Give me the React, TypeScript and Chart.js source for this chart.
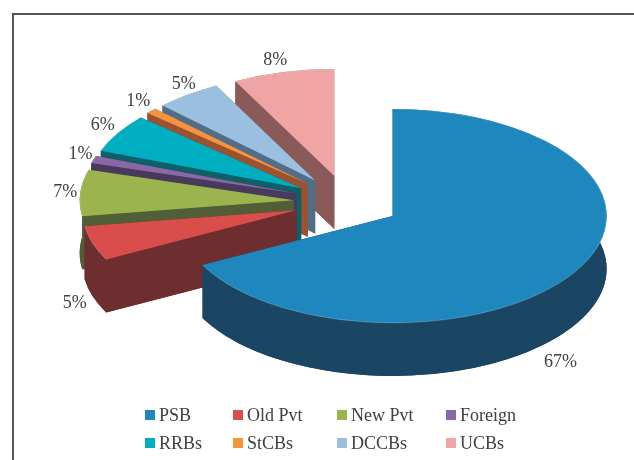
import React, { useEffect, useRef } from "react";
import { Chart, registerables } from "chart.js";

Chart.register(...registerables);

const categories = ["PSB", "Old Pvt", "New Pvt", "Foreign", "RRBs", "StCBs", "DCCBs", "UCBs"];
const shares = [67.4, 5.2, 7.0, 1.1, 5.8, 0.85, 5.0, 7.65];
const faceColors = ["#1e87bd", "#d94d4b", "#9cb44e", "#8b68a5", "#00aec2", "#f5943f", "#9bbfdf", "#eea5a3"];
const wallColors = ["#1a4663", "#6e2e30", "#515e36", "#483a5c", "#0f5f68", "#9a5230", "#506e87", "#8a5a58"];
const labelNudges = [[-15, 91], [-18, 60], [-15, -1], [-13, -5], [-15, -8], [-13, -10], [-4, -10], [-8, -12]];
const legendColumns = [145, 233, 337, 446];
const legendRows = [410, 438];

const CENTER_X = 347;
const CENTER_Y = 202;
const SQUASH = 0.5;
const EXPLODE = 53.4;
const DEPTH = 53;
const FONT = '18px "Liberation Serif", serif';
const TEXT = "#404040";

const pie3d = {
  id: "pie3d",
  beforeDatasetsDraw(chart: any) {
    const { ctx } = chart;
    const arcs = chart.getDatasetMeta(0).data as any[];
    for (let i = arcs.length - 1; i >= 0; i--) {
      const arc = arcs[i];
      const mid = (arc.startAngle + arc.endAngle) / 2;
      const ox = CENTER_X + Math.cos(mid) * EXPLODE;
      const oy = CENTER_Y + Math.sin(mid) * EXPLODE * SQUASH;
      const rx = arc.outerRadius;
      const ry = rx * SQUASH;
      const a = arc.startAngle;
      const b = arc.endAngle;
      ctx.save();
      ctx.translate(ox, oy);
      ctx.fillStyle = wallColors[i];
      // bottom sector
      ctx.beginPath();
      ctx.moveTo(0, DEPTH);
      ctx.ellipse(0, DEPTH, rx, ry, 0, a, b);
      ctx.closePath();
      ctx.fill();
      // curved outer band
      ctx.beginPath();
      ctx.ellipse(0, 0, rx, ry, 0, a, b);
      ctx.ellipse(0, DEPTH, rx, ry, 0, b, a, true);
      ctx.closePath();
      ctx.fill();
      // the two flat radial walls
      [a, b].forEach((t) => {
        const px = Math.cos(t) * rx;
        const py = Math.sin(t) * ry;
        ctx.beginPath();
        ctx.moveTo(0, 0);
        ctx.lineTo(px, py);
        ctx.lineTo(px, py + DEPTH);
        ctx.lineTo(0, DEPTH);
        ctx.closePath();
        ctx.fill();
      });
      // top face, drawn by the library's arc element
      ctx.save();
      ctx.scale(1, SQUASH);
      ctx.translate(-arc.x, -arc.y);
      arc.draw(ctx);
      ctx.restore();
      // faint highlight on the rim
      ctx.strokeStyle = "rgba(255,255,255,0.22)";
      ctx.lineWidth = 1;
      ctx.beginPath();
      ctx.ellipse(0, 0, rx, ry, 0, a, b);
      ctx.stroke();
      ctx.restore();
    }
    return false;
  },
  afterDraw(chart: any) {
    const { ctx } = chart;
    const arcs = chart.getDatasetMeta(0).data as any[];
    ctx.save();
    ctx.font = FONT;
    ctx.fillStyle = TEXT;
    ctx.textBaseline = "middle";
    ctx.textAlign = "center";
    arcs.forEach((arc, i) => {
      const mid = (arc.startAngle + arc.endAngle) / 2;
      const r = arc.outerRadius + EXPLODE;
      const x = CENTER_X + Math.cos(mid) * r + labelNudges[i][0];
      const y = CENTER_Y + Math.sin(mid) * r * SQUASH + labelNudges[i][1];
      ctx.fillText(`${Math.round(shares[i])}%`, x, y);
    });
    ctx.textAlign = "left";
    categories.forEach((name, i) => {
      const x = legendColumns[i % 4];
      const y = legendRows[Math.floor(i / 4)];
      ctx.fillStyle = faceColors[i];
      ctx.fillRect(x, y, 10, 10);
      ctx.fillStyle = TEXT;
      ctx.fillText(name, x + 14, y + 6);
    });
    ctx.restore();
  },
};

export default function App() {
  const ref = useRef<HTMLCanvasElement>(null);
  useEffect(() => {
    const chart = new Chart(ref.current as HTMLCanvasElement, {
      type: "pie",
      data: {
        labels: categories,
        datasets: [{ data: shares, backgroundColor: faceColors, borderWidth: 0 }],
      },
      options: {
        animation: false,
        responsive: false,
        radius: 214,
        events: [],
        plugins: { legend: { display: false }, tooltip: { enabled: false } },
      } as any,
      plugins: [pie3d],
    });
    return () => chart.destroy();
  }, []);
  return (
    <div style={{ position: "fixed", left: 0, top: 0, width: 634, height: 460, overflow: "hidden", background: "#fff" }}>
      <div style={{ position: "absolute", left: 12, top: 13, right: 0, bottom: 0, borderTop: "2px solid #555", borderLeft: "2px solid #555" }} />
      <canvas ref={ref} width={634} height={460} style={{ position: "absolute", left: 0, top: 0, display: "block" }} />
    </div>
  );
}
